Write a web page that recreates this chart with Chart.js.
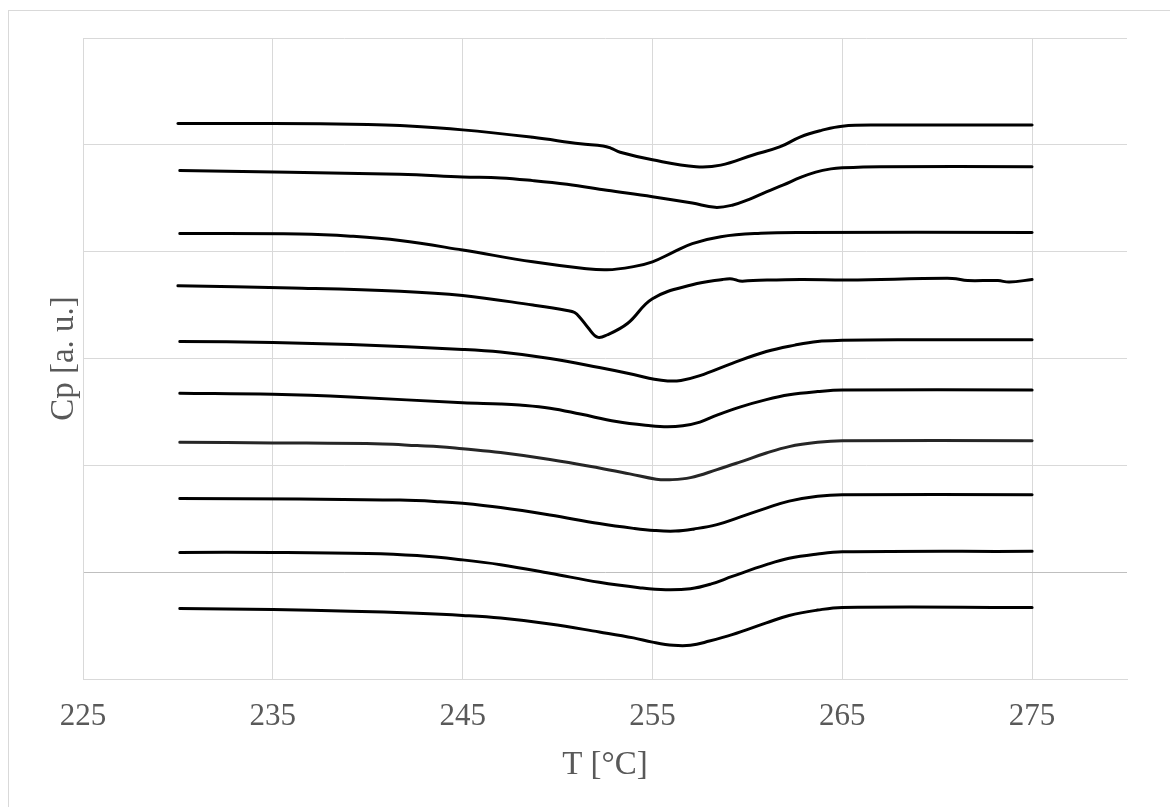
<!DOCTYPE html>
<html>
<head>
<meta charset="utf-8">
<script src="https://cdn.jsdelivr.net/npm/chart.js@4/dist/chart.umd.min.js"></script>
<style>
  html, body { margin: 0; padding: 0; background: #fff; overflow: hidden; }
  #frame {
    position: absolute; left: 8px; top: 10px; width: 1200px; height: 850px;
    border: 1px solid #d9d9d9; box-sizing: border-box;
  }
  #wrap { position: absolute; left: 0; top: 0; width: 1170px; height: 807px; }
</style>
</head>
<body>
<div id="frame"></div>
<div id="wrap"><canvas id="cpChart" width="1170" height="807"></canvas></div>
<script>
// DSC heat capacity scans, stacked with vertical offsets (top to bottom)
const t1 = [230.0, 235.0, 240.0, 241.7, 245.0, 248.7, 251.2, 252.4, 252.8, 253.3, 255.0, 257.3, 258.6, 260.3, 261.7, 262.8, 263.9, 265.0, 267.0, 275.0];
const cp1 = [5.20, 5.20, 5.19, 5.18, 5.14, 5.07, 5.01, 4.99, 4.97, 4.93, 4.86, 4.795, 4.81, 4.905, 4.98, 5.075, 5.135, 5.175, 5.185, 5.185];

const t2 = [230.1, 241.7, 245.0, 247.0, 248.7, 250.5, 252.6, 255.0, 257.1, 258.3, 259.2, 260.1, 261.0, 261.9, 262.8, 263.6, 264.4, 265.0, 267.0, 275.0];
const cp2 = [4.76, 4.725, 4.70, 4.69, 4.665, 4.63, 4.575, 4.515, 4.455, 4.415, 4.435, 4.49, 4.56, 4.625, 4.695, 4.745, 4.775, 4.785, 4.795, 4.795];

const t3 = [230.1, 236.4, 239.1, 241.7, 245.0, 248.7, 251.3, 252.6, 254.0, 255.0, 256.1, 257.1, 258.6, 260.7, 262.8, 275.0];
const cp3 = [4.17, 4.165, 4.145, 4.105, 4.015, 3.905, 3.845, 3.83, 3.86, 3.905, 3.995, 4.075, 4.14, 4.172, 4.18, 4.18];

const t4 = [230.0, 236.0, 241.7, 245.0, 248.7, 250.5, 250.9, 251.2, 251.6, 252.1, 252.6, 253.7, 255.0, 257.1, 258.7, 259.2, 259.6, 260.3, 262.8, 265.3, 270.8, 271.6, 273.2, 273.8, 275.0];
const cp4 = [3.68, 3.66, 3.63, 3.59, 3.50, 3.45, 3.43, 3.38, 3.29, 3.20, 3.22, 3.33, 3.56, 3.69, 3.74, 3.745, 3.725, 3.73, 3.74, 3.735, 3.75, 3.73, 3.73, 3.715, 3.74];

const t5 = [230.1, 235.0, 239.1, 245.0, 247.0, 249.6, 252.2, 254.0, 255.1, 255.8, 256.5, 257.5, 259.2, 261.0, 262.5, 263.7, 265.0, 268.0, 275.0];
const cp5 = [3.16, 3.15, 3.13, 3.085, 3.06, 3.00, 2.915, 2.85, 2.805, 2.79, 2.795, 2.84, 2.955, 3.065, 3.125, 3.16, 3.17, 3.175, 3.175];

const t6 = [230.1, 235.0, 239.1, 245.0, 247.0, 248.0, 249.6, 251.2, 253.1, 254.9, 255.8, 256.6, 257.5, 258.4, 259.6, 261.0, 262.2, 263.7, 265.0, 275.0];
const cp6 = [2.675, 2.665, 2.64, 2.585, 2.575, 2.565, 2.535, 2.48, 2.41, 2.37, 2.36, 2.37, 2.405, 2.47, 2.545, 2.615, 2.66, 2.69, 2.705, 2.705];

const t7 = [230.1, 235.0, 240.8, 242.6, 243.8, 245.0, 247.0, 249.6, 252.2, 253.8, 255.2, 255.9, 257.0, 258.4, 259.6, 261.0, 262.2, 263.7, 265.0, 275.0];
const cp7 = [2.215, 2.21, 2.20, 2.185, 2.175, 2.155, 2.12, 2.055, 1.975, 1.92, 1.87, 1.865, 1.885, 1.96, 2.03, 2.115, 2.175, 2.215, 2.23, 2.23];

const t8 = [230.1, 236.4, 241.7, 243.8, 245.0, 247.0, 249.6, 252.2, 254.0, 255.1, 256.2, 257.2, 258.4, 259.6, 261.0, 262.2, 263.7, 265.0, 275.0];
const cp8 = [1.69, 1.685, 1.675, 1.66, 1.645, 1.605, 1.535, 1.455, 1.41, 1.39, 1.385, 1.405, 1.445, 1.515, 1.60, 1.665, 1.71, 1.725, 1.725];

const t9 = [230.1, 235.0, 240.0, 242.6, 245.0, 247.0, 249.6, 252.2, 254.3, 255.7, 257.0, 258.1, 259.2, 261.0, 262.2, 263.7, 265.0, 275.0];
const cp9 = [1.185, 1.185, 1.175, 1.155, 1.115, 1.07, 0.99, 0.905, 0.855, 0.835, 0.845, 0.89, 0.96, 1.07, 1.13, 1.17, 1.19, 1.195];

const t10 = [230.1, 235.0, 239.1, 242.6, 245.0, 247.0, 249.6, 252.2, 254.0, 255.0, 256.1, 257.0, 258.0, 259.2, 261.0, 262.2, 263.7, 265.0, 275.0];
const cp10 = [0.66, 0.65, 0.635, 0.615, 0.595, 0.57, 0.515, 0.44, 0.385, 0.345, 0.315, 0.315, 0.355, 0.415, 0.525, 0.595, 0.645, 0.67, 0.67];

const xTicks = [225, 235, 245, 255, 265, 275];

const scans = [
  [t1, cp1], [t2, cp2], [t3, cp3], [t4, cp4], [t5, cp5],
  [t6, cp6], [t7, cp7], [t8, cp8], [t9, cp9], [t10, cp10]
];

const serif = "'Liberation Serif', 'Times New Roman', serif";
const gridColor = '#d9d9d9';

const datasets = scans.map(([t, cp], i) => ({
  data: t.map((x, k) => ({ x: x, y: cp[k] })),
  borderColor: i === 6 ? '#262626' : '#000000',
  borderWidth: 3,
  borderCapStyle: 'round',
  borderJoinStyle: 'round',
  pointRadius: 0,
  fill: false,
  tension: 0.4
}));

new Chart(document.getElementById('cpChart'), {
  type: 'line',
  data: { datasets: datasets },
  options: {
    responsive: false,
    animation: false,
    layout: { padding: { top: 38, right: 43, bottom: 0, left: 0 } },
    plugins: { legend: { display: false }, tooltip: { enabled: false } },
    scales: {
      x: {
        type: 'linear',
        min: 225,
        max: 280,
        afterBuildTicks: scale => { scale.ticks = xTicks.map(v => ({ value: v })); },
        afterFit: scale => { scale.height = 128; },
        grid: { color: gridColor, lineWidth: 1, drawTicks: false },
        border: { color: gridColor, width: 1 },
        ticks: {
          padding: 19,
          color: '#595959',
          font: { family: serif, size: 31 },
          maxRotation: 0
        },
        title: {
          display: true,
          text: 'T [°C]',
          color: '#595959',
          font: { family: serif, size: 33 },
          padding: { top: 0, bottom: 22 }
        }
      },
      y: {
        min: 0,
        max: 6,
        afterFit: scale => { scale.width = 83; },
        ticks: { display: false, stepSize: 1 },
        grid: {
          color: ctx => (ctx.tick && ctx.tick.value === 1 ? '#bfbfbf' : gridColor),
          lineWidth: 1,
          drawTicks: false
        },
        border: { color: gridColor, width: 1 },
        title: {
          display: true,
          text: 'Cp [a. u.]',
          color: '#595959',
          font: { family: serif, size: 33 },
          padding: { top: 45, bottom: 0 }
        }
      }
    }
  }
});
</script>
</body>
</html>
